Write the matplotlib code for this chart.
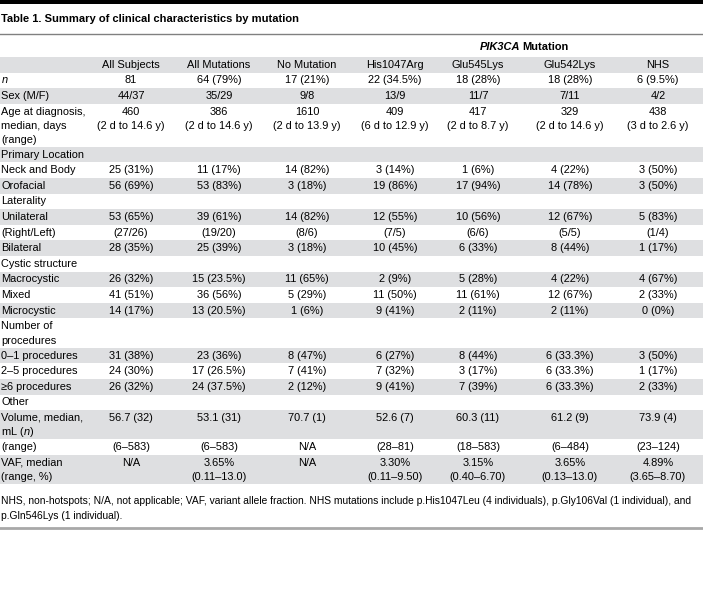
import matplotlib
matplotlib.use('Agg')
import matplotlib.pyplot as plt

plt.rcParams['font.family'] = ['Liberation Sans', 'DejaVu Sans']
plt.rcParams['mathtext.fontset'] = 'custom'
plt.rcParams['mathtext.rm'] = 'Liberation Sans'
plt.rcParams['mathtext.it'] = 'Liberation Sans:italic'

title = "Table 1. Summary of clinical characteristics by mutation"
columns = ["All Subjects", "All Mutations", "No Mutation",
           "His1047Arg", "Glu545Lys", "Glu542Lys", "NHS"]

row_labels = ["$n$", "Sex (M/F)", "Age at diagnosis,\nmedian, days\n(range)",
              "Primary Location", "Neck and Body", "Orofacial",
              "Laterality", "Unilateral", "(Right/Left)", "Bilateral",
              "Cystic structure", "Macrocystic", "Mixed", "Microcystic",
              "Number of\nprocedures", "0\u20131 procedures", "2\u20135 procedures",
              "\u22656 procedures", "Other", "Volume, median,\nmL ($n$)",
              "(range)", "VAF, median\n(range, %)"]

all_subjects = ["81", "44/37", "460\n(2 d to 14.6 y)", "", "25 (31%)", "56 (69%)",
                "", "53 (65%)", "(27/26)", "28 (35%)", "", "26 (32%)", "41 (51%)",
                "14 (17%)", "", "31 (38%)", "24 (30%)", "26 (32%)", "", "56.7 (32)",
                "(6\u2013583)", "N/A"]
all_mutations = ["64 (79%)", "35/29", "386\n(2 d to 14.6 y)", "", "11 (17%)", "53 (83%)",
                 "", "39 (61%)", "(19/20)", "25 (39%)", "", "15 (23.5%)", "36 (56%)",
                 "13 (20.5%)", "", "23 (36%)", "17 (26.5%)", "24 (37.5%)", "", "53.1 (31)",
                 "(6\u2013583)", "3.65%\n(0.11\u201313.0)"]
no_mutation = ["17 (21%)", "9/8", "1610\n(2 d to 13.9 y)", "", "14 (82%)", "3 (18%)",
               "", "14 (82%)", "(8/6)", "3 (18%)", "", "11 (65%)", "5 (29%)",
               "1 (6%)", "", "8 (47%)", "7 (41%)", "2 (12%)", "", "70.7 (1)",
               "N/A", "N/A"]
his1047arg = ["22 (34.5%)", "13/9", "409\n(6 d to 12.9 y)", "", "3 (14%)", "19 (86%)",
              "", "12 (55%)", "(7/5)", "10 (45%)", "", "2 (9%)", "11 (50%)",
              "9 (41%)", "", "6 (27%)", "7 (32%)", "9 (41%)", "", "52.6 (7)",
              "(28\u201381)", "3.30%\n(0.11\u20139.50)"]
glu545lys = ["18 (28%)", "11/7", "417\n(2 d to 8.7 y)", "", "1 (6%)", "17 (94%)",
             "", "10 (56%)", "(6/6)", "6 (33%)", "", "5 (28%)", "11 (61%)",
             "2 (11%)", "", "8 (44%)", "3 (17%)", "7 (39%)", "", "60.3 (11)",
             "(18\u2013583)", "3.15%\n(0.40\u20136.70)"]
glu542lys = ["18 (28%)", "7/11", "329\n(2 d to 14.6 y)", "", "4 (22%)", "14 (78%)",
             "", "12 (67%)", "(5/5)", "8 (44%)", "", "4 (22%)", "12 (67%)",
             "2 (11%)", "", "6 (33.3%)", "6 (33.3%)", "6 (33.3%)", "", "61.2 (9)",
             "(6\u2013484)", "3.65%\n(0.13\u201313.0)"]
nhs = ["6 (9.5%)", "4/2", "438\n(3 d to 2.6 y)", "", "3 (50%)", "3 (50%)",
       "", "5 (83%)", "(1/4)", "1 (17%)", "", "4 (67%)", "2 (33%)",
       "0 (0%)", "", "3 (50%)", "1 (17%)", "2 (33%)", "", "73.9 (4)",
       "(23\u2013124)", "4.89%\n(3.65\u20138.70)"]

footnote = ("NHS, non-hotspots; N/A, not applicable; VAF, variant allele fraction. "
            "NHS mutations include p.His1047Leu (4 individuals), p.Gly106Val (1 individual), and\n"
            "p.Gln546Lys (1 individual).")

col_values = [all_subjects, all_mutations, no_mutation, his1047arg, glu545lys, glu542lys, nhs]
col_x = [131, 219, 307, 395, 478, 570, 658]

W, H = 703, 592
fig = plt.figure(figsize=(W / 100, H / 100), dpi=100)
ax = fig.add_axes([0, 0, 1, 1])
ax.set_xlim(0, W)
ax.set_ylim(H, 0)
ax.axis('off')

shade = '#dedfe1'
fs = 7.9
line_h = 14.3

# top bar, title, rule
ax.fill_between([0, W], 0, 3.5, color='black', lw=0)
ax.text(1, 19, title, fontsize=8.0, fontweight='bold', va='center', ha='left')
ax.plot([0, W], [33.5, 33.5], color='#808080', lw=1)

# group header
ax.text(520, 47, "PIK3CA", fontsize=fs, fontweight='bold', fontstyle='italic', va='center', ha='right')
ax.text(522, 47, "Mutation", fontsize=fs, fontweight='bold', va='center', ha='left')

# header row
y = 57
ax.fill_between([0, W], y, y + 15.6, color=shade, lw=0)
for cx, name in zip(col_x, columns):
    ax.text(cx, y + 7.8, name, fontsize=fs, ha='center', va='center')
y += 15.6

for i, label in enumerate(row_labels):
    n_lines = max(len(s.split('\n')) for s in [label] + [c[i] for c in col_values])
    h = 13.7 * n_lines + 1.9
    if i % 2 == 1:
        ax.fill_between([0, W], y, y + h, color=shade, lw=0)
    for k, part in enumerate(label.split('\n')):
        ax.text(1, y + 7.8 + k * line_h, part, fontsize=fs, ha='left', va='center')
    for cx, col in zip(col_x, col_values):
        for k, part in enumerate(col[i].split('\n')):
            ax.text(cx, y + 7.8 + k * line_h, part, fontsize=fs, ha='center', va='center')
    y += h

for k, part in enumerate(footnote.split('\n')):
    ax.text(1, 501 + k * 15, part, fontsize=7.4, ha='left', va='center')

ax.plot([0, W], [528, 528], color='#a8a8a8', lw=2)

fig.savefig('out.png', dpi=100)
